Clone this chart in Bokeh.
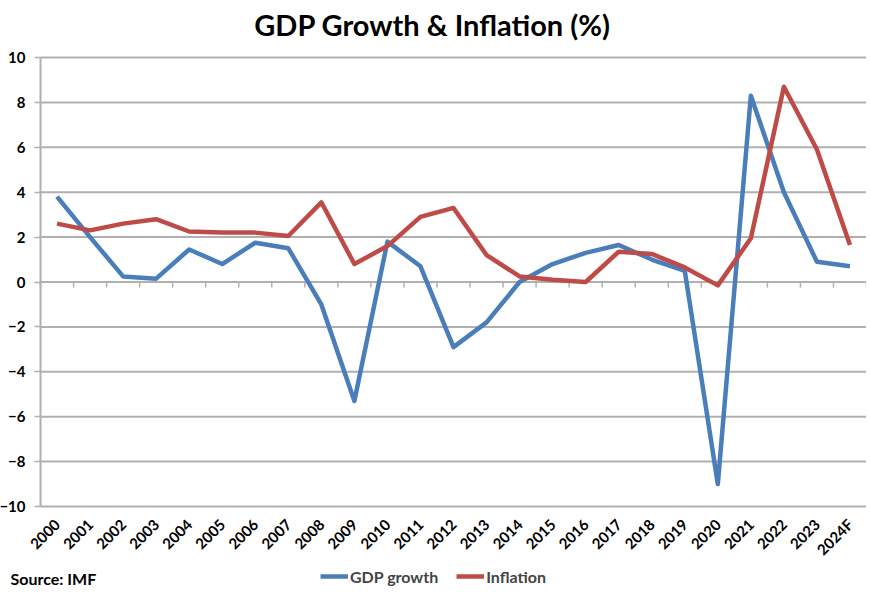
import math
from bokeh.plotting import figure
from bokeh.models import (Range1d, FixedTicker, Label, Legend, LegendItem)
from bokeh.embed import file_html
from bokeh.resources import INLINE

years = ["2000", "2001", "2002", "2003", "2004", "2005", "2006", "2007", "2008",
         "2009", "2010", "2011", "2012", "2013", "2014", "2015", "2016", "2017",
         "2018", "2019", "2020", "2021", "2022", "2023", "2024F"]
gdp_growth = [3.8, 2.0, 0.25, 0.15, 1.45, 0.8, 1.75, 1.5, -1.0, -5.3, 1.8, 0.7,
              -2.9, -1.8, 0.0, 0.8, 1.3, 1.65, 1.0, 0.5, -9.0, 8.3, 4.0, 0.9, 0.7]
inflation = [2.6, 2.3, 2.6, 2.8, 2.25, 2.2, 2.2, 2.05, 3.55, 0.8, 1.6, 2.9, 3.3,
             1.2, 0.25, 0.1, 0.0, 1.35, 1.25, 0.65, -0.15, 1.95, 8.7, 5.9, 1.65]
y_ticks = [-10, -8, -6, -4, -2, 0, 2, 4, 6, 8, 10]
Y_MIN, Y_MAX = -10, 10

# category slots: each year occupies one unit, centred at i + 0.5
n = len(years)
x_pos = [i + 0.5 for i in range(n)]
bounds = list(range(n + 1))

FONT = "Lato"
GRID = "#b0b0b0"
W, H = 866, 592

# The frame spans the whole canvas so the title, legend and source note can sit
# inside it; the visible plot area is Y_MIN..Y_MAX, 0..n.
p = figure(width=W, height=H, output_backend="svg", toolbar_location=None,
           x_range=Range1d(-1.2107, n), y_range=Range1d(-13.83, 12.539),
           min_border_left=0, min_border_right=0, min_border_top=0,
           min_border_bottom=0)
p.outline_line_color = None

# y axis, pinned at the left edge of the category area
p.yaxis.fixed_location = 0
p.yaxis.ticker = FixedTicker(ticks=y_ticks)
p.yaxis.axis_line_color = None
p.yaxis.major_tick_line_color = GRID
p.yaxis.major_tick_line_width = 1.5
p.yaxis.major_tick_out = 6
p.yaxis.major_tick_in = 0
p.yaxis.minor_tick_line_color = None
p.yaxis.major_label_text_font = FONT
p.yaxis.major_label_text_font_style = "bold"
p.yaxis.major_label_text_font_size = "15px"
p.yaxis.major_label_text_color = "#000000"
p.yaxis.major_label_standoff = 9

# x axis (category labels), pinned at the bottom of the value range
p.xaxis.fixed_location = Y_MIN
p.xaxis.ticker = FixedTicker(ticks=x_pos)
p.xaxis.major_label_overrides = {x: y for x, y in zip(x_pos, years)}
p.xaxis.axis_line_color = None
p.xaxis.major_tick_line_color = None
p.xaxis.minor_tick_line_color = None
p.xaxis.major_label_orientation = math.pi / 4
p.xaxis.major_label_text_font = FONT
p.xaxis.major_label_text_font_style = "bold"
p.xaxis.major_label_text_font_size = "15px"
p.xaxis.major_label_text_color = "#000000"
p.xaxis.major_label_standoff = 9

# grid
p.xgrid.grid_line_color = None
p.ygrid.ticker = FixedTicker(ticks=y_ticks)
p.ygrid.grid_line_color = None

# horizontal gridlines across the category area only
p.segment(x0=[0] * len(y_ticks), y0=y_ticks, x1=[n] * len(y_ticks), y1=y_ticks,
          line_color=GRID, line_width=2)
# vertical axis line
p.segment(x0=[0], y0=[Y_MIN], x1=[0], y1=[Y_MAX], line_color=GRID, line_width=2)
# tick marks on the zero line at category boundaries
p.segment(x0=bounds, y0=[0] * len(bounds), x1=bounds, y1=[-0.25] * len(bounds),
          line_color=GRID, line_width=1.5)

r_gdp = p.line(x_pos, gdp_growth, line_color="#4a7ebb", line_width=4.5,
               line_join="round")
r_inf = p.line(x_pos, inflation, line_color="#be4b48", line_width=4.5,
               line_join="round")

legend = Legend(items=[LegendItem(label="GDP growth", renderers=[r_gdp]),
                       LegendItem(label="Inflation", renderers=[r_inf])],
                orientation="horizontal", location=(320, 6),
                background_fill_alpha=0, border_line_color=None,
                label_text_font=FONT, label_text_font_style="bold",
                label_text_font_size="16px", glyph_width=28, spacing=18,
                label_standoff=2, padding=2, margin=0)
p.add_layout(legend, "center")

# chart title
p.add_layout(Label(x=432, y=H - 24, x_units="screen", y_units="screen",
                   text="GDP Growth & Inflation (%)", text_font=FONT,
                   text_font_style="bold", text_font_size="29px",
                   text_color="#000000", text_align="center",
                   text_baseline="alphabetic"))

p.add_layout(Label(x=10, y=14, x_units="screen", y_units="screen",
                   text="Source: IMF", text_font=FONT, text_font_style="bold",
                   text_font_size="16px", text_color="#000000",
                   text_baseline="middle"))

open("out.html", "w").write(file_html(p, INLINE))
